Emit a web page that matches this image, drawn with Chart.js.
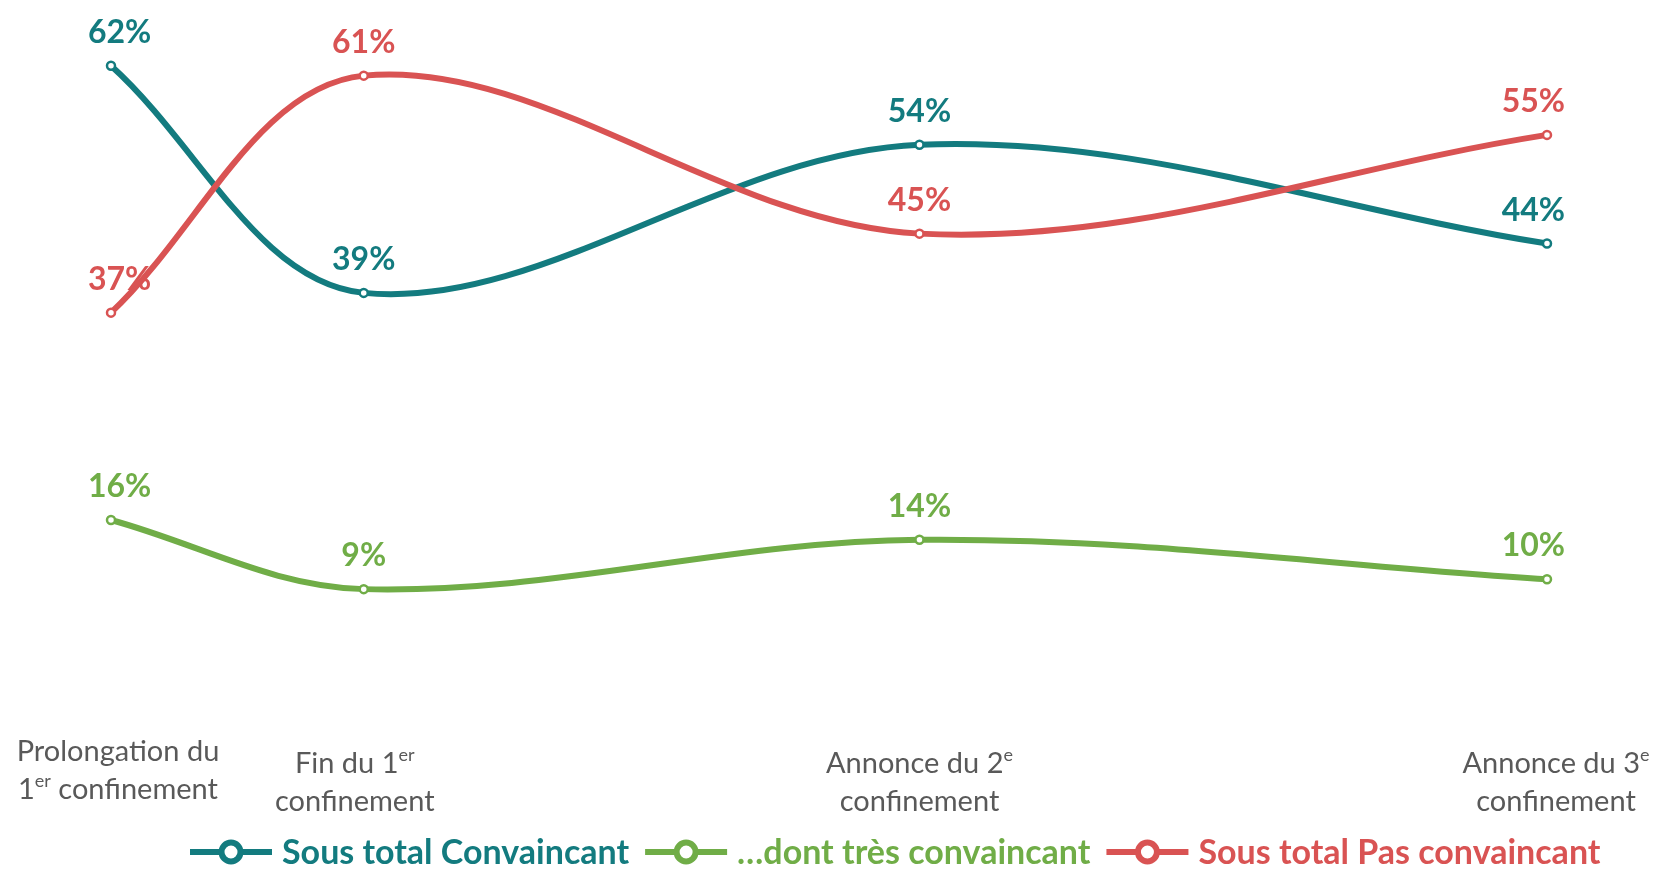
<!DOCTYPE html>
<html lang="fr">
<head>
<meta charset="utf-8">
<title>Convaincant / Pas convaincant</title>
<script src="https://cdn.jsdelivr.net/npm/chart.js@4.4.1/dist/chart.umd.min.js"></script>
<style>
  html, body { margin: 0; padding: 0; background: #fff; }
  #wrap { width: 1660px; height: 869px; position: relative; }
</style>
</head>
<body>
<div id="wrap"><canvas id="chartConfinement"></canvas></div>
<script>
// Periods (unevenly spaced on the original axis); [..] marks a superscript
const periodLabels = [
  ['Prolongation du', '1[er] confinement'],
  ['Fin du 1[er]', 'confinement'],
  ['Annonce du 2[e]', 'confinement'],
  ['Annonce du 3[e]', 'confinement']
];
const periodX = [0, 1.76, 5.63, 10];

const sousTotalConvaincant = [62, 39, 54, 44];
const dontTresConvaincant = [16, 9, 14, 10];
const sousTotalPasConvaincant = [37, 61, 45, 55];

const seriesNames = ['Sous total Convaincant', '…dont très convaincant', 'Sous total Pas convaincant'];
const TEAL = '#137b7f';
const GREEN = '#70ad47';
const RED = '#d95353';
const GREY = '#595959';

function toPoints(values) {
  return values.map((v, i) => ({ x: periodX[i], y: v }));
}

function makeDataset(label, values, color, order) {
  return {
    label: label,
    data: toPoints(values),
    borderColor: color,
    backgroundColor: '#ffffff',
    borderWidth: 6,
    pointRadius: 4,
    pointBorderWidth: 2.5,
    pointBackgroundColor: '#ffffff',
    pointBorderColor: color,
    tension: 0.35,
    fill: false,
    clip: false,
    order: order
  };
}

// draws text where [xx] parts are superscripts, centered on cx
function drawRichLine(ctx, line, cx, y, size) {
  const parts = [];
  line.split(/(\[[^\]]*\])/).forEach(p => {
    if (!p) return;
    if (p[0] === '[') parts.push({ t: p.slice(1, -1), sup: true });
    else parts.push({ t: p, sup: false });
  });
  let total = 0;
  parts.forEach(p => {
    ctx.font = (p.sup ? Math.round(size * 0.62) : size) + 'px Lato';
    p.w = ctx.measureText(p.t).width;
    total += p.w;
  });
  let x = cx - total / 2;
  parts.forEach(p => {
    ctx.font = (p.sup ? Math.round(size * 0.62) : size) + 'px Lato';
    ctx.fillText(p.t, x, p.sup ? y - size * 0.42 : y);
    x += p.w;
  });
}

const confinementPlugin = {
  id: 'confinementLabels',
  afterDatasetsDraw(chart) {
    const ctx = chart.ctx;
    const area = chart.chartArea;
    ctx.save();
    ctx.font = 'bold 32px Lato';
    ctx.textBaseline = 'alphabetic';
    chart.data.datasets.forEach((ds, i) => {
      const meta = chart.getDatasetMeta(i);
      meta.data.forEach((pt, j) => {
        const txt = ds.data[j].y + '%';
        const w = ctx.measureText(txt).width;
        let x = pt.x - w / 2;
        x = Math.max(area.left - 23, Math.min(x, area.right + 18 - w));
        ctx.fillStyle = ds.borderColor;
        ctx.fillText(txt, x, pt.y - 23);
      });
    });
    ctx.restore();
  },
  afterDraw(chart) {
    const ctx = chart.ctx;
    const xScale = chart.scales.x;
    const area = chart.chartArea;
    ctx.save();

    // period labels under the plot
    ctx.fillStyle = GREY;
    ctx.textBaseline = 'alphabetic';
    const nudge = [7, -9, 0, 9];
    periodLabels.forEach((lines, i) => {
      const cx = xScale.getPixelForValue(periodX[i]) + nudge[i];
      const base = area.bottom + (i === 0 ? 83 : 95);
      lines.forEach((line, k) => drawRichLine(ctx, line, cx, base + k * 38, 29));
    });

    // legend
    let x = 190;
    const y = 852;
    chart.data.datasets.forEach((ds) => {
      ctx.strokeStyle = ds.borderColor;
      ctx.lineWidth = 6;
      ctx.beginPath();
      ctx.moveTo(x, y);
      ctx.lineTo(x + 82, y);
      ctx.stroke();
      ctx.beginPath();
      ctx.arc(x + 41, y, 9.5, 0, Math.PI * 2);
      ctx.fillStyle = '#ffffff';
      ctx.fill();
      ctx.stroke();
      x += 92;
      ctx.font = 'bold 34px Lato';
      ctx.fillStyle = ds.borderColor;
      ctx.fillText(ds.label, x, y + 12);
      x += ctx.measureText(ds.label).width + 16;
    });
    ctx.restore();
  }
};

new Chart(document.getElementById('chartConfinement'), {
  type: 'line',
  data: {
    datasets: [
      makeDataset(seriesNames[0], sousTotalConvaincant, TEAL, 1),
      makeDataset(seriesNames[1], dontTresConvaincant, GREEN, 2),
      makeDataset(seriesNames[2], sousTotalPasConvaincant, RED, 0)
    ]
  },
  options: {
    responsive: true,
    maintainAspectRatio: false,
    animation: false,
    layout: { padding: { left: 111, right: 113, top: 0, bottom: 191 } },
    plugins: { legend: { display: false }, tooltip: { enabled: false } },
    scales: {
      x: { type: 'linear', min: 0, max: 10, display: false },
      y: { min: 0, max: 68, display: false }
    }
  },
  plugins: [confinementPlugin]
});
</script>
</body>
</html>
